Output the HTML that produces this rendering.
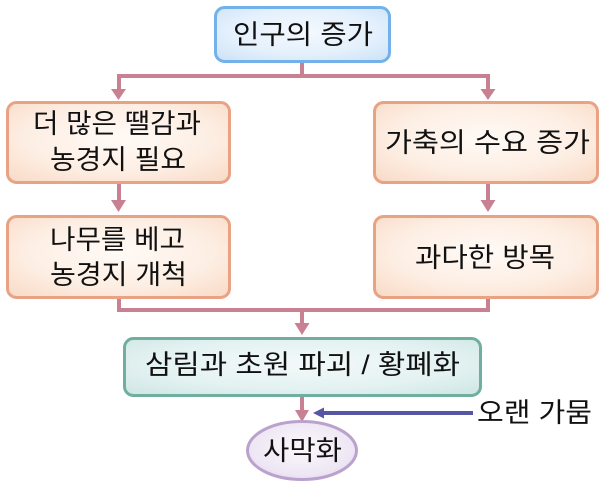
<!DOCTYPE html>
<html>
<head>
<meta charset="utf-8">
<style>
  html,body{margin:0;padding:0;background:#fff;}
  svg{display:block;}
  text{font-family:"Liberation Sans","Noto Sans CJK KR","NanumGothic",sans-serif;fill:#111;}
</style>
</head>
<body>
<svg width="605" height="486" viewBox="0 0 605 486" xmlns="http://www.w3.org/2000/svg">
  <defs>
    <radialGradient id="gBlue" cx="50%" cy="45%" r="70%">
      <stop offset="0%" stop-color="#f4f9fe"/>
      <stop offset="60%" stop-color="#e4f0fc"/>
      <stop offset="100%" stop-color="#cde3f8"/>
    </radialGradient>
    <radialGradient id="gOrange" cx="50%" cy="45%" r="70%">
      <stop offset="0%" stop-color="#fffaf6"/>
      <stop offset="60%" stop-color="#fdeee3"/>
      <stop offset="100%" stop-color="#f9dcc8"/>
    </radialGradient>
    <radialGradient id="gTeal" cx="50%" cy="45%" r="70%">
      <stop offset="0%" stop-color="#f3f9f9"/>
      <stop offset="60%" stop-color="#e4f2f2"/>
      <stop offset="100%" stop-color="#cfe7e5"/>
    </radialGradient>
    <radialGradient id="gPurple" cx="50%" cy="45%" r="65%">
      <stop offset="0%" stop-color="#fbf8fc"/>
      <stop offset="70%" stop-color="#eee7f4"/>
      <stop offset="100%" stop-color="#e2d6ec"/>
    </radialGradient>
  </defs>

  <!-- connectors (pink) -->
  <g fill="#c98092" stroke="none">
    <!-- top split -->
    <rect x="300" y="62" width="4" height="16"/>
    <rect x="117" y="74" width="373" height="4"/>
    <rect x="117" y="74" width="4" height="16"/>
    <rect x="486" y="74" width="4" height="16"/>
    <polygon points="111,89 126,89 118.5,100"/>
    <polygon points="480.5,89 495.5,89 488,100"/>
    <!-- between box rows -->
    <rect x="117" y="183" width="4" height="18"/>
    <polygon points="111,200 126,200 118.5,212"/>
    <rect x="486" y="183" width="4" height="18"/>
    <polygon points="480.5,200 495.5,200 488,212"/>
    <!-- bottom merge -->
    <rect x="117" y="297" width="4" height="15"/>
    <rect x="486" y="297" width="4" height="15"/>
    <rect x="117" y="308" width="373" height="4"/>
    <rect x="300" y="308" width="4" height="16"/>
    <polygon points="294.5,323 309.5,323 302,335"/>
    <!-- teal to ellipse -->
    <rect x="300" y="395" width="4" height="16"/>
    <polygon points="295,410 309,410 302,422"/>
  </g>

  <!-- blue arrow -->
  <rect x="322" y="411" width="151" height="4" fill="#5656a4"/>
  <polygon points="313,413 324,407.5 324,418.5" fill="#5656a4"/>

  <!-- boxes -->
  <rect x="215.5" y="7.5" width="174" height="54" rx="9" ry="9" fill="url(#gBlue)" stroke="#72b1ea" stroke-width="3"/>

  <rect x="7.5" y="102.5" width="222" height="80" rx="9" ry="9" fill="url(#gOrange)" stroke="#e9a283" stroke-width="3"/>
  <rect x="374.5" y="102.5" width="223" height="80" rx="9" ry="9" fill="url(#gOrange)" stroke="#e9a283" stroke-width="3"/>
  <rect x="7.5" y="216.5" width="222" height="81" rx="9" ry="9" fill="url(#gOrange)" stroke="#e9a283" stroke-width="3"/>
  <rect x="374.5" y="216.5" width="223" height="81" rx="9" ry="9" fill="url(#gOrange)" stroke="#e9a283" stroke-width="3"/>

  <rect x="124.5" y="338.5" width="356" height="57" rx="9" ry="9" fill="url(#gTeal)" stroke="#70ae9f" stroke-width="3"/>

  <ellipse cx="302" cy="450.5" rx="54.5" ry="29" fill="url(#gPurple)" stroke="#bba2cd" stroke-width="3"/>

  <!-- labels -->
  <g font-size="27" dominant-baseline="central">
    <text x="233" y="35" textLength="140" lengthAdjust="spacingAndGlyphs" dominant-baseline="central">인구의 증가</text>

    <text x="33" y="124" textLength="168" lengthAdjust="spacingAndGlyphs" dominant-baseline="central">더 많은 땔감과</text>
    <text x="50" y="160" textLength="136" lengthAdjust="spacingAndGlyphs" dominant-baseline="central">농경지 필요</text>

    <text x="385" y="143" textLength="205" lengthAdjust="spacingAndGlyphs" dominant-baseline="central">가축의 수요 증가</text>

    <text x="50" y="240" textLength="135" lengthAdjust="spacingAndGlyphs" dominant-baseline="central">나무를 베고</text>
    <text x="50" y="275" textLength="137" lengthAdjust="spacingAndGlyphs" dominant-baseline="central">농경지 개척</text>

    <text x="415" y="258" textLength="140" lengthAdjust="spacingAndGlyphs" dominant-baseline="central">과다한 방목</text>

    <text x="145" y="365" textLength="315" lengthAdjust="spacingAndGlyphs" dominant-baseline="central">삼림과 초원 파괴 / 황폐화</text>

    <text x="263" y="451" textLength="79" lengthAdjust="spacingAndGlyphs" dominant-baseline="central">사막화</text>

    <text x="477" y="413" textLength="115" lengthAdjust="spacingAndGlyphs" dominant-baseline="central">오랜 가뭄</text>
  </g>
</svg>
</body>
</html>
